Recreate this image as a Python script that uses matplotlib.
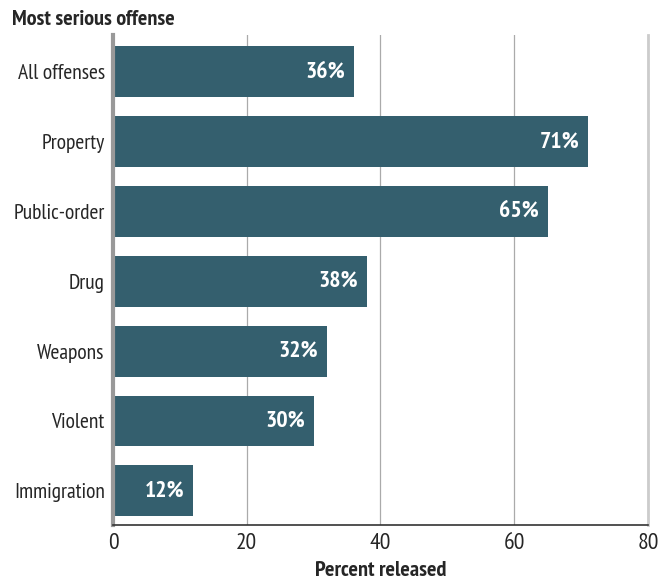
import matplotlib
matplotlib.use("Agg")
import matplotlib.pyplot as plt

categories = ["All offenses", "Property", "Public-order", "Drug", "Weapons", "Violent", "Immigration"]
values = [36, 71, 65, 38, 32, 30, 12]
xticks = [0, 20, 40, 60, 80]

plt.rcParams['font.family'] = ["PT Sans Narrow", 'DejaVu Sans']

bar_color = "#345f6e"
text_color = "#262626"

fig = plt.figure(figsize=(6.67, 5.81), dpi=100)
ax = fig.add_axes([0.1694, 0.0964, 0.8021, 0.8434])

y = list(range(len(categories)))
ax.barh(y, values, height=0.73, color=bar_color, zorder=2)
for yi, v in zip(y, values):
    ax.text(v - 1.3, yi, f"{v}%", ha="right", va="center", color="white",
            fontsize=17, fontweight="bold", zorder=3)

ax.set_ylim(len(categories) - 1 + 0.49, -0.53)
ax.set_xlim(0, 80)
ax.set_xticks(xticks)
ax.set_xticklabels([str(t) for t in xticks])
ax.set_yticks(y)
ax.set_yticklabels(categories)
ax.tick_params(axis="both", length=0, colors=text_color)
ax.tick_params(axis="y", pad=6, labelsize=15.5)
ax.tick_params(axis="x", pad=6, labelsize=17)

ax.grid(axis="x", color="#aaaaaa", linewidth=0.9, zorder=1)
ax.set_axisbelow(True)
ax.spines["top"].set_visible(False)
ax.spines["right"].set_color("#cccccc")
ax.spines["right"].set_linewidth(2)
ax.spines["left"].set_color("#999999")
ax.spines["left"].set_linewidth(3)
ax.spines["bottom"].set_color("#333333")
ax.spines["bottom"].set_linewidth(1.2)

ax.set_xlabel("Percent released", fontsize=16, fontweight="bold", color=text_color, labelpad=5)
fig.text(0.018, 0.966, "Most serious offense", fontsize=16, fontweight="bold",
         color=text_color, ha="left", va="center")

fig.savefig("out.png", dpi=100)
